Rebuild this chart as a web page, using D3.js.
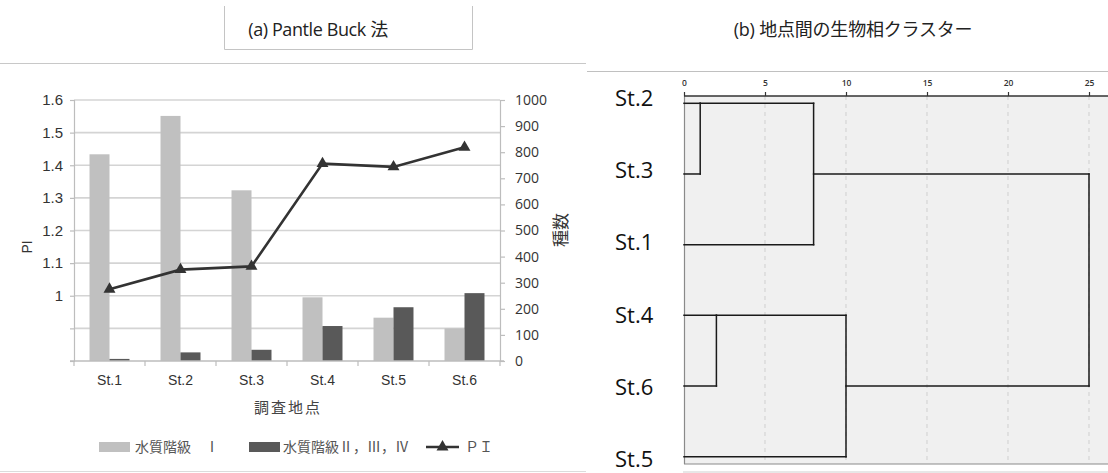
<!DOCTYPE html>
<html>
<head>
<meta charset="utf-8">
<script src="https://cdn.jsdelivr.net/npm/d3@7"></script>
<style>
  html, body { margin: 0; padding: 0; background: #fff; }
  svg { display: block; }
</style>
</head>
<body>
<svg id="chart" width="1108" height="473"></svg>
<script>
// ---- (a) Pantle-Buck: species counts by water-quality class, and PI ----
const stations = ["St.1", "St.2", "St.3", "St.4", "St.5", "St.6"];
const class1Counts = [792, 939, 654, 244, 166, 125];      // 水質階級 Ⅰ
const class234Counts = [8, 33, 43, 134, 206, 260];        // 水質階級 Ⅱ,Ⅲ,Ⅳ
const piValues = [1.02, 1.08, 1.09, 1.405, 1.395, 1.455]; // Pantle-Buck index
const piTicks = [0.8, 0.9, 1.0, 1.1, 1.2, 1.3, 1.4, 1.5, 1.6];
const countTicks = [0, 100, 200, 300, 400, 500, 600, 700, 800, 900, 1000];

// ---- (b) cluster dendrogram between stations ----
const leafOrder = ["St.2", "St.3", "St.1", "St.4", "St.6", "St.5"];
// each merge: [first member, second member, rescaled distance, row of the joined branch]
const merges = [
  ["St.2", "St.3", 1, 0],
  ["St.4", "St.6", 2, 3],
  ["C1", "St.1", 8, 1],
  ["C2", "St.5", 10, 4],
  ["C3", "C4", 25, 2.5]
];
const distTicks = [0, 5, 10, 15, 20, 25];

const svg = d3.select("#chart");
const CJK = "'Noto Sans CJK JP', 'Noto Sans', sans-serif";

// ---------- panel frames ----------
svg.append("line").attr("x1", 0).attr("x2", 586).attr("y1", 63.5).attr("y2", 63.5)
  .attr("stroke", "#c8c8c8").attr("stroke-width", 1);
svg.append("line").attr("x1", 587).attr("x2", 1108).attr("y1", 71.5).attr("y2", 71.5)
  .attr("stroke", "#c0c0c0").attr("stroke-width", 1);
svg.append("line").attr("x1", 0).attr("x2", 586).attr("y1", 471.5).attr("y2", 471.5)
  .attr("stroke", "#dcdcdc").attr("stroke-width", 1);

// title box of panel (a)
svg.append("path").attr("d", "M224.5,6 V49.5 H472.5 V6")
  .attr("fill", "none").attr("stroke", "#c4c4c4").attr("stroke-width", 1);
svg.append("text").attr("x", 318).attr("y", 36).attr("text-anchor", "middle")
  .attr("font-family", "'Open Sans', " + CJK).attr("font-size", 18).attr("fill", "#222")
  .attr("letter-spacing", -0.4)
  .text("(a) Pantle Buck 法");

svg.append("text").attr("x", 853).attr("y", 36).attr("text-anchor", "middle")
  .attr("font-family", "'Open Sans', " + CJK).attr("font-size", 18).attr("fill", "#222")
  .attr("letter-spacing", -0.2)
  .text("(b) 地点間の生物相クラスター");

// ---------- panel (a) ----------
const plotL = 74, plotR = 500, plotT = 100, plotB = 361;
const x0 = d3.scaleBand().domain(stations).range([plotL, plotR])
  .paddingInner(0.437).paddingOuter(0.2185);
const x1 = d3.scaleBand().domain([0, 1]).range([0, x0.bandwidth()]);
const yPI = d3.scaleLinear().domain([0.8, 1.6]).range([plotB, plotT]);
const yCnt = d3.scaleLinear().domain([0, 1000]).range([plotB, plotT]);
const xMid = d => x0(d) + x0.bandwidth() / 2;

const gA = svg.append("g");

// horizontal gridlines on the PI scale
gA.append("g").selectAll("line").data(piTicks.slice(1)).join("line")
  .attr("x1", plotL).attr("x2", plotR)
  .attr("y1", d => yPI(d)).attr("y2", d => yPI(d))
  .attr("stroke", "#d4d4d4").attr("stroke-width", 1.6);

// left PI axis (labels from 1 upward)
const axisL = d3.axisLeft(yPI).tickValues(piTicks).tickSize(4).tickPadding(7)
  .tickFormat(d => d >= 0.999 ? (Math.abs(d - 1) < 1e-9 ? "1" : d3.format(".1f")(d)) : "");
const gL = gA.append("g").attr("transform", `translate(${plotL},0)`).call(axisL);
gL.select(".domain").attr("stroke", "#bdbdbd").attr("stroke-width", 1.2);
gL.selectAll(".tick line").attr("stroke", "#bdbdbd").attr("stroke-width", 1.2);
gL.selectAll(".tick text").attr("font-family", "'Liberation Sans', Arial, sans-serif")
  .attr("font-size", 15).attr("fill", "#333");

// right count axis
const axisR = d3.axisRight(yCnt).tickValues(countTicks).tickSize(5).tickPadding(10)
  .tickFormat(d3.format("d"));
const gR = gA.append("g").attr("transform", `translate(${plotR},0)`).call(axisR);
gR.select(".domain").attr("stroke", "#bdbdbd").attr("stroke-width", 1.2);
gR.selectAll(".tick line").attr("stroke", "#bdbdbd").attr("stroke-width", 1.2);
gR.selectAll(".tick text").attr("font-family", "'Open Sans', sans-serif")
  .attr("font-size", 14).attr("fill", "#333");

// bars
const barSeries = [
  { values: class1Counts, color: "#c0c0c0" },
  { values: class234Counts, color: "#595959" }
];
barSeries.forEach((s, si) => {
  gA.append("g").selectAll("rect").data(stations).join("rect")
    .attr("x", d => x0(d) + x1(si))
    .attr("width", x1.bandwidth())
    .attr("y", (d, i) => yCnt(s.values[i]))
    .attr("height", (d, i) => yCnt(0) - yCnt(s.values[i]))
    .attr("fill", s.color);
});

// bottom category axis
const axisB = d3.axisBottom(x0).tickSize(0).tickPadding(14);
const gB = gA.append("g").attr("transform", `translate(0,${plotB})`).call(axisB);
gB.select(".domain").remove();
gB.selectAll(".tick text").attr("font-family", "'Liberation Sans', Arial, sans-serif")
  .attr("font-size", 14).attr("fill", "#333");
gA.append("line").attr("x1", plotL - 4).attr("x2", plotR + 4)
  .attr("y1", plotB).attr("y2", plotB).attr("stroke", "#bdbdbd").attr("stroke-width", 1.4);
const boundaries = stations.map(d => x0(d) - x0.step() * x0.paddingInner() / 2)
  .concat([plotR]);
gA.append("g").selectAll("line").data(boundaries).join("line")
  .attr("x1", d => d).attr("x2", d => d).attr("y1", plotB).attr("y2", plotB + 5)
  .attr("stroke", "#bdbdbd").attr("stroke-width", 1.2);

// PI line with triangle markers
gA.append("path").datum(piValues)
  .attr("d", d3.line().x((d, i) => xMid(stations[i])).y(d => yPI(d)))
  .attr("fill", "none").attr("stroke", "#333").attr("stroke-width", 2.6);
const tri = d3.symbol(d3.symbolTriangle).size(62);
gA.append("g").selectAll("path").data(piValues).join("path")
  .attr("transform", (d, i) => `translate(${xMid(stations[i])},${yPI(d)})`)
  .attr("d", tri).attr("fill", "#333");

// axis titles
gA.append("text").attr("transform", "translate(32,247) rotate(-90)")
  .attr("text-anchor", "middle").attr("font-family", "'Liberation Sans', Arial, sans-serif")
  .attr("font-size", 14).attr("fill", "#333").text("PI");
gA.append("text").attr("transform", "translate(567,230) rotate(-90)")
  .attr("text-anchor", "middle").attr("font-family", CJK)
  .attr("font-size", 17).attr("fill", "#333").text("種数");
gA.append("text").attr("x", 288).attr("y", 413).attr("text-anchor", "middle")
  .attr("font-family", CJK).attr("font-size", 15).attr("letter-spacing", 2)
  .attr("fill", "#444").text("調査地点");

// legend
const legY = 447;
const leg = gA.append("g").attr("font-family", CJK).attr("font-size", 14).attr("fill", "#555");
leg.append("rect").attr("x", 99).attr("y", legY - 5).attr("width", 31).attr("height", 10).attr("fill", "#c0c0c0");
leg.append("text").attr("x", 135).attr("y", legY + 5).text("水質階級　Ⅰ");
leg.append("rect").attr("x", 249).attr("y", legY - 5).attr("width", 31).attr("height", 10).attr("fill", "#595959");
leg.append("text").attr("x", 283).attr("y", legY + 5).text("水質階級Ⅱ，Ⅲ，Ⅳ");
leg.append("line").attr("x1", 426).attr("x2", 459).attr("y1", legY).attr("y2", legY)
  .attr("stroke", "#333").attr("stroke-width", 2.6);
leg.append("path").attr("transform", `translate(442.5,${legY})`).attr("d", tri).attr("fill", "#333");
leg.append("text").attr("x", 465).attr("y", legY + 5).text("ＰＩ");

// ---------- panel (b): dendrogram ----------
const dL = 684, dR = 1108, dT = 96, dB = 464;
const xD = d3.scaleLinear().domain([0, 25]).range([dL, 1089]);
const yRow = d3.scaleLinear().domain([0, leafOrder.length - 1]).range([103.3, 456.7]);
const yLabel = d3.scaleLinear().domain([0, leafOrder.length - 1]).range([98, 459]);

const gD = svg.append("g");
gD.append("rect").attr("x", dL).attr("y", dT).attr("width", dR - dL).attr("height", dB - dT)
  .attr("fill", "#f0f0f0");
gD.append("g").selectAll("line").data(distTicks.slice(1)).join("line")
  .attr("x1", d => xD(d)).attr("x2", d => xD(d)).attr("y1", dT).attr("y2", dB)
  .attr("stroke", "#cfcfcf").attr("stroke-width", 1).attr("stroke-dasharray", "4,4");
gD.append("line").attr("x1", dL + 0.5).attr("x2", dL + 0.5).attr("y1", dT).attr("y2", dB)
  .attr("stroke", "#8a8a8a").attr("stroke-width", 1.2);
gD.append("line").attr("x1", dL).attr("x2", dR).attr("y1", dB).attr("y2", dB)
  .attr("stroke", "#8a8a8a").attr("stroke-width", 1.2);
gD.append("line").attr("x1", dL - 1).attr("x2", dR).attr("y1", 472).attr("y2", 472)
  .attr("stroke", "#d0d0d0").attr("stroke-width", 1.2);

// top distance axis
const axisT = d3.axisTop(xD).tickValues(distTicks).tickSize(4).tickPadding(6);
const gT = gD.append("g").attr("transform", `translate(0,${dT})`).call(axisT);
gT.select(".domain").attr("d", `M${dL},0H${dR}`).attr("stroke", "#333").attr("stroke-width", 1.4);
gT.selectAll(".tick line").attr("stroke", "#333").attr("stroke-width", 1.2);
gT.selectAll(".tick text").attr("font-family", "'Open Sans', sans-serif")
  .attr("font-size", 8.5).attr("font-weight", 600).attr("fill", "#333");

// branch positions: leaves start at distance 0 on their own row
const node = {};
leafOrder.forEach((name, i) => { node[name] = { dist: 0, row: i }; });
const segs = [];
merges.forEach((m, k) => {
  const [a, b, dist, row] = m;
  const na = node[a], nb = node[b];
  segs.push([na.dist, na.row, dist, na.row]);
  segs.push([nb.dist, nb.row, dist, nb.row]);
  segs.push([dist, na.row, dist, nb.row]);
  node["C" + (k + 1)] = { dist: dist, row: row };
});
gD.append("g").selectAll("line").data(segs).join("line")
  .attr("x1", s => xD(s[0])).attr("y1", s => yRow(s[1]))
  .attr("x2", s => xD(s[2])).attr("y2", s => yRow(s[3]))
  .attr("stroke", "#1a1a1a").attr("stroke-width", 1.5).attr("stroke-linecap", "square");

// station labels
gD.append("g").selectAll("text").data(leafOrder).join("text")
  .attr("x", 615).attr("y", (d, i) => yLabel(i)).attr("dy", "0.36em")
  .attr("font-family", "'Open Sans', sans-serif").attr("font-size", 22).attr("fill", "#111")
  .text(d => d);
</script>
</body>
</html>
